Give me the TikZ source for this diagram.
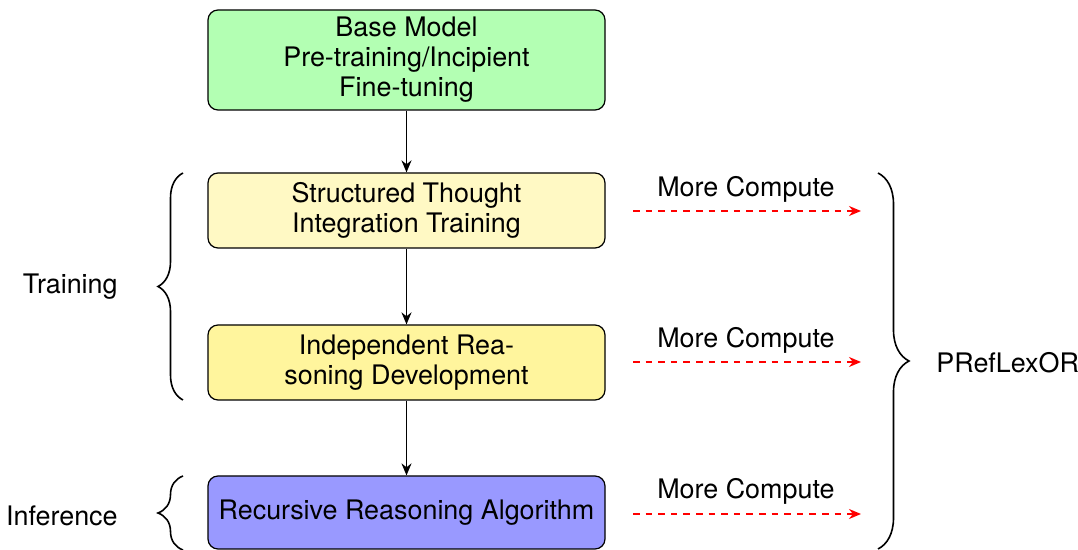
\documentclass[tikz,border=0pt]{standalone}
\usepackage{fontspec}
\setmainfont{TeX Gyre Heros}
\usetikzlibrary{arrows.meta,decorations.pathreplacing}
\definecolor{boxgreen}{HTML}{B3FFB3}
\definecolor{boxyellowA}{HTML}{FFF9C4}
\definecolor{boxyellowB}{HTML}{FFF59D}
\definecolor{boxblue}{HTML}{9999FF}
\tikzset{
  stagebox/.style={draw=black, line width=0.6pt, rounded corners=5pt, align=center,
    minimum width=198.5pt, inner sep=2pt, font=\fontsize{13.45}{15}\selectfont},
  flowarrow/.style={-{Stealth[length=6pt,width=5pt]}, line width=0.85pt, black},
  computearrow/.style={-{Stealth[length=6pt,width=5pt]}, line width=0.85pt, red,
    dash pattern=on 3.3pt off 3pt},
  bracestyle/.style={decorate, line width=0.8pt, black},
  labeltext/.style={font=\fontsize{13.45}{15}\selectfont, inner sep=0pt}
}
\begin{document}
\begin{tikzpicture}[x=0.5pt, y=-0.5pt]
\useasboundingbox (0,0) rectangle (1078,550);
% boxes
\node[stagebox, fill=boxgreen, minimum height=50pt] (base) at (406.5,60)
  {Base Model\\Pre-training/Incipient\\Fine-tuning};
\node[stagebox, fill=boxyellowA, minimum height=37.5pt] (sti) at (406.5,210.5)
  {Structured Thought\\Integration Training};
\node[stagebox, fill=boxyellowB, minimum height=37.5pt] (ird) at (406.5,362.5)
  {Independent Rea-\\soning Development};
\node[stagebox, fill=boxblue, minimum height=36.5pt] (rra) at (406.5,512.5)
  {Recursive Reasoning Algorithm};
% flow arrows
\draw[flowarrow] (base) -- (sti);
\draw[flowarrow] (sti) -- (ird);
\draw[flowarrow] (ird) -- (rra);
% compute arrows
\coordinate (c1a) at (633,211); \coordinate (c1b) at (861,211);
\coordinate (c2a) at (633,362); \coordinate (c2b) at (861,362);
\coordinate (c3a) at (633,514); \coordinate (c3b) at (861,514);
\draw[computearrow] (c1a) -- (c1b);
\draw[computearrow] (c2a) -- (c2b);
\draw[computearrow] (c3a) -- (c3b);
\node[labeltext] (m1) at (746,189) {More Compute};
\node[labeltext] (m2) at (746,340) {More Compute};
\node[labeltext] (m3) at (746,491) {More Compute};
% braces
\coordinate (tb1) at (183,400); \coordinate (tb2) at (183,173);
\draw[bracestyle, decoration={brace, amplitude=12.5pt}] (tb1) -- (tb2);
\coordinate (ib1) at (183,550); \coordinate (ib2) at (183,476);
\draw[bracestyle, decoration={brace, amplitude=12.5pt}] (ib1) -- (ib2);
\coordinate (pb1) at (878,173); \coordinate (pb2) at (878,549);
\draw[bracestyle, decoration={brace, amplitude=15.5pt}] (pb1) -- (pb2);
% labels
\node[labeltext, anchor=east] (train) at (118,287) {Training};
\node[labeltext, anchor=east] (infer) at (118,516) {Inference};
\node[labeltext, anchor=west] (pref) at (936,363) {PRefLexOR};
\end{tikzpicture}
\end{document}
